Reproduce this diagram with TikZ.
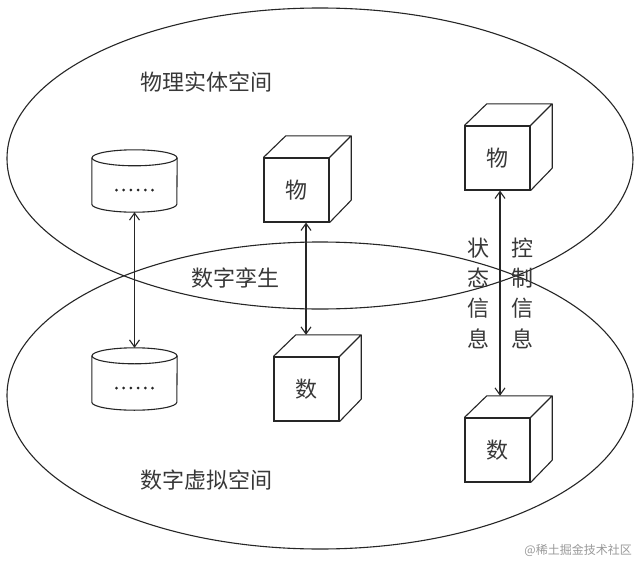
\documentclass[tikz,border=0pt]{standalone}
\usepackage{fontspec}
\newfontfamily\cjk{Noto Sans CJK SC}
\usetikzlibrary{arrows.meta,calc}
\tikzset{
  outline/.style={draw=black!85, line width=1.1pt},
  face/.style={outline, rectangle, minimum width=65pt, minimum height=64pt, inner sep=0pt},
  backface/.style={rectangle, minimum width=65pt, minimum height=64pt, inner sep=0pt},
  cylbody/.style={rectangle, minimum width=85pt, minimum height=46pt, inner sep=0pt},
  lbl/.style={font=\cjk\fontsize{22}{30.3}\selectfont, text=black!78, inner sep=0pt},
  vlbl/.style={lbl, align=center},
  dotfill/.style={fill=black!85},
  link/.style={draw=black!85, line width=1.1pt, {Straight Barb[length=7pt,width=10pt]}-{Straight Barb[length=7pt,width=10pt]}},
  wm/.style={font=\cjk\fontsize{12}{12}\selectfont, text=black!40, inner sep=0pt}
}
\newcommand{\mycube}[4]{% name, x, y (front-face top-left), label
  \node[backface] (#1b) at (#2+32.5+22, #3+32-22) {};
  \draw[outline, line join=round] (#1.north west) -- (#1b.north west) -- (#1b.north east) -- (#1.north east);
  \draw[outline, line join=round] (#1b.north east) -- (#1b.south east) -- (#1.south east);
}
\newcommand{\mycyl}[3]{% name, center x, body center y
  \node[cylbody] (#1) at (#2,#3) {};
  \draw[outline] ([yshift=8pt]#1.north) ellipse (42.5pt and 8pt);
  \draw[outline] ([yshift=8pt]#1.north west) -- ([yshift=8pt]#1.south west)
     arc[start angle=180, end angle=360, x radius=42.5pt, y radius=8pt] -- ([yshift=8pt]#1.north east);
  \foreach \k in {0,...,5} \fill[dotfill] ([xshift={(\k-2.5)*7.2pt}, yshift=-1pt]#1.center) circle (1.5pt);
}
\begin{document}
\begin{tikzpicture}[x=1pt, y=-1pt]
\useasboundingbox (0,0) rectangle (640,562);
\fill[white] (0,0) rectangle (640,562);
% ellipses
\draw[outline] (320,158.5) ellipse (313pt and 150.5pt);
\draw[outline] (320,395.5) ellipse (313pt and 153.5pt);
% titles
\node[lbl] (t1) at (206.5,82) {物理实体空间};
\node[lbl] (t2) at (235.5,278) {数字孪生};
\node[lbl] (t3) at (206.5,480) {数字虚拟空间};
% cylinders
\mycyl{cy1}{134.5}{189}
\mycyl{cy2}{134.5}{387}
% cubes (front faces)
\node[face, label={[lbl]center:物}] (c1) at (296.5,190) {};
\node[face, label={[lbl]center:数}] (c2) at (306.5,389) {};
\node[face, label={[lbl]center:物}] (c3) at (497.5,158) {};
\node[face, label={[lbl]center:数}] (c4) at (497.5,450) {};
\mycube{c1}{264}{158}{}
\mycube{c2}{274}{357}{}
\mycube{c3}{465}{126}{}
\mycube{c4}{465}{418}{}
% links
\draw[link] (cy1.south) -- ([yshift=16pt]cy2.north);
\draw[link] ([xshift=9.5pt]c1.south) -- ([xshift=9.5pt]c1.south |- c2b.north);
\draw[link] ([xshift=2.5pt]c3.south) -- ([xshift=2.5pt]c3.south |- c4b.north);
% vertical labels
\node[vlbl] (s1) at (478,293) {状\\态\\信\\息};
\node[vlbl] (s2) at (522,293) {控\\制\\信\\息};
% watermark
\node[wm, anchor=east] (w) at (632,550) {@稀土掘金技术社区};
\end{tikzpicture}
\end{document}
